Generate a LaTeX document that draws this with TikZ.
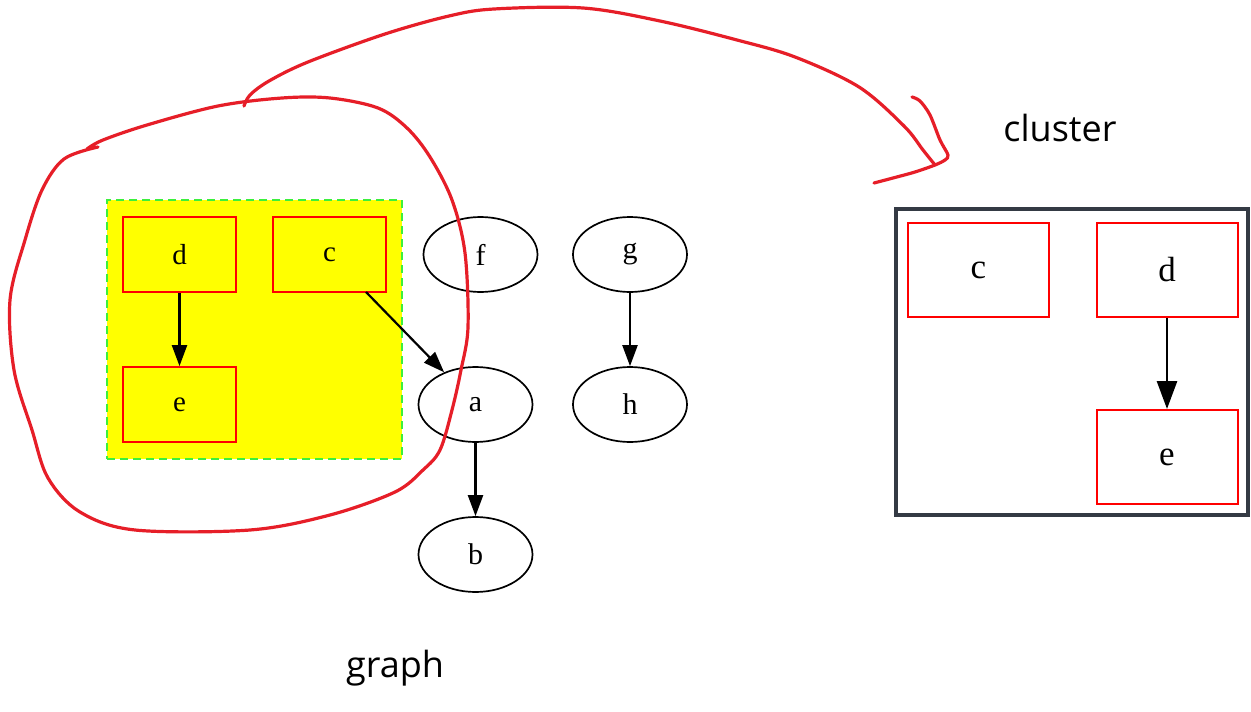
\documentclass[tikz,border=0pt]{standalone}
\usepackage{fontspec}
\setmainfont{Liberation Serif}
\newfontfamily\labelfont{Open Sans}
\usetikzlibrary{arrows.meta,shapes.geometric}
\definecolor{hand}{RGB}{230,30,40}
\definecolor{frame}{RGB}{52,58,68}
\definecolor{gline}{RGB}{60,240,60}
\definecolor{yel}{RGB}{255,255,0}
\tikzset{
  box/.style={draw=red, line width=1.8pt, minimum width=113pt, minimum height=75pt, inner sep=0pt, font=\fontsize{29}{29}\selectfont},
  bigbox/.style={draw=red, line width=2pt, minimum width=141pt, minimum height=94pt, inner sep=0pt, font=\fontsize{35}{35}\selectfont},
  oval/.style={draw=black, line width=1.7pt, ellipse, minimum width=114pt, minimum height=75pt, inner sep=0pt, font=\fontsize{30}{30}\selectfont},
  edge/.style={draw=black, line width=2.2pt, -{Triangle[length=21pt,width=15pt]}},
  bigedge/.style={draw=black, line width=2.8pt, -{Triangle[length=28pt,width=20pt]}},
  pen/.style={draw=hand, line width=3.2pt, line cap=round, line join=round},
  note/.style={font=\labelfont\fontsize{36}{36}\selectfont}
}
\begin{document}
\begin{tikzpicture}[x=1pt,y=-1pt]
\useasboundingbox (0,0) rectangle (1251,712);
% left cluster
\node[draw=gline, dash pattern=on 8pt off 5pt, line width=1.8pt, fill=yel, minimum width=295pt, minimum height=259pt, inner sep=0pt] (cl) at (254.5,329.5) {};
\node[box] (d) at (179.5,254.5) {d};
\node[box] (c) at (329.5,254.5) {c};
\node[box] (e) at (179.5,404.5) {e};
\node[oval] (f) at (480.5,254.5) {f};
\node[oval] (g) at (630,254.5) {g};
\node[oval] (a) at (475.5,404.5) {a};
\node[oval] (h) at (630,404.5) {h};
\node[oval] (b) at (475.5,554.5) {b};
\draw[edge] (d) -- (e);
\coordinate (cs) at (366,292);
\draw[edge] (cs) -- (a);
\draw[edge] (g) -- (h);
\draw[edge] (a) -- (b);
% right cluster
\node[draw=frame, line width=4pt, minimum width=352pt, minimum height=306pt, inner sep=0pt] (cr) at (1072,362) {};
\node[bigbox] (c2) at (978.5,270) {c};
\node[bigbox] (d2) at (1167,270) {d};
\node[bigbox] (e2) at (1167,457) {e};
\draw[bigedge] (d2) -- (e2);
% labels
\node[note] (gl) at (395,668) {graph};
\node[note] (cll) at (1060,128) {cluster};
% hand-drawn loop
\draw[pen] plot[smooth, tension=0.55] coordinates {
 (98,147) (64,159) (42,190) (25,240) (10,300) (14,370) (32,430) (48,478) (80,512) (135,530) (250,530) (330,515) (395,492) (423,470) (440,450) (452,410) (461,370) (468,327) (465,253) (452,200) (430,157) (407,128) (378,108) (330,98) (282,98) (218,106) (147,125) (103,140) (87,149)};
% arc to cluster
\draw[pen] plot[smooth, tension=0.55] coordinates {
 (244,106) (250,95) (269,81) (308,62) (385,34) (449,16) (494,9) (583,8) (660,21) (737,40) (795,57) (859,87) (904,126) (923,150) (935,165)};
\draw[pen] plot[smooth, tension=0.5] coordinates {
 (912,97) (920,101) (930,115) (940,140) (948,155) (945,160) (935,165) (915,172) (893,178) (874,183)};
\end{tikzpicture}
\end{document}
